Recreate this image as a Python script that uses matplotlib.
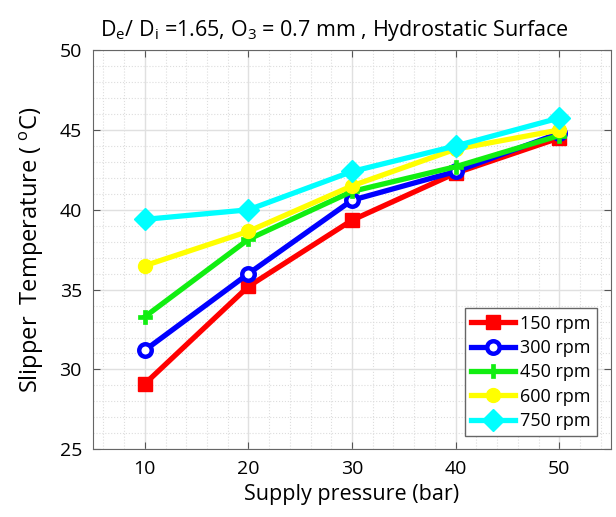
import numpy as np
import matplotlib.pyplot as plt
from matplotlib.ticker import MultipleLocator

plt.rcParams['font.family'] = ['Open Sans', 'DejaVu Sans']
plt.rcParams['mathtext.fontset'] = 'custom'
plt.rcParams['mathtext.rm'] = 'Open Sans'

pressure = [10, 20, 30, 40, 50]
t150 = [29.1, 35.2, 39.35, 42.3, 44.5]
t300 = [31.2, 36.0, 40.6, 42.4, 44.8]
t450 = [33.3, 38.15, 41.15, 42.7, 44.65]
t600 = [36.5, 38.65, 41.5, 43.8, 45.0]
t750 = [39.4, 40.0, 42.4, 44.0, 45.75]
labels = ['150 rpm', '300 rpm', '450 rpm', '600 rpm', '750 rpm']

fig = plt.figure(figsize=(6.16, 5.17), dpi=100)
ax = fig.add_axes([0.151, 0.131, 0.841, 0.772])

# line styles per speed
styles = [
    dict(color='#ff0000', marker='s', ms=10, mfc='#ff0000', mew=1),
    dict(color='#0000ff', marker='o', ms=9, mfc='white', mew=3.2),
    dict(color='#11ee11', marker='P', ms=10, mfc='#11ee11', mew=0.5),
    dict(color='#ffff00', marker='o', ms=10, mfc='#ffff00', mew=1),
    dict(color='#00ffff', marker='D', ms=11, mfc='#00ffff', mew=1),
]
for vals, lab, st in zip([t150, t300, t450, t600, t750], labels, styles):
    ax.plot(pressure, vals, lw=3.8, label=lab, **st)

ax.set_xlim(5, 55)
ax.set_ylim(25, 50)
ax.set_xticks(pressure)
ax.set_yticks([25, 30, 35, 40, 45, 50])
ax.xaxis.set_minor_locator(MultipleLocator(2))
ax.yaxis.set_minor_locator(MultipleLocator(1))
ax.grid(which='major', color='#e0e0e0', lw=1, ls='-')
ax.grid(which='minor', color='#dddddd', lw=0.8, ls=':')
ax.set_axisbelow(True)
ax.tick_params(which='major', direction='in', length=5, top=True, right=True,
               labelsize=14, color='#555555', pad=8)
ax.tick_params(which='minor', length=0)
for s in ax.spines.values():
    s.set_color('#666666')

ax.set_xlabel('Supply pressure (bar)', fontsize=15.5)
ax.set_ylabel('Slipper  Temperature ( $^\\mathregular{o}$C)', fontsize=17, labelpad=10)
ax.set_title('D$_\\mathregular{e}$/ D$_\\mathregular{i}$ =1.65, O$_\\mathregular{3}$ = 0.7 mm , Hydrostatic Surface',
             fontsize=15.5, pad=10, x=0.465)

leg = ax.legend(loc='lower right', bbox_to_anchor=(0.99, 0.01), fontsize=13,
                fancybox=False, edgecolor='#666666', framealpha=1,
                handlelength=2.4, handletextpad=0.3, borderpad=0.35, labelspacing=0.35)
leg.get_frame().set_linewidth(1)

fig.savefig('out.png', dpi=100)
